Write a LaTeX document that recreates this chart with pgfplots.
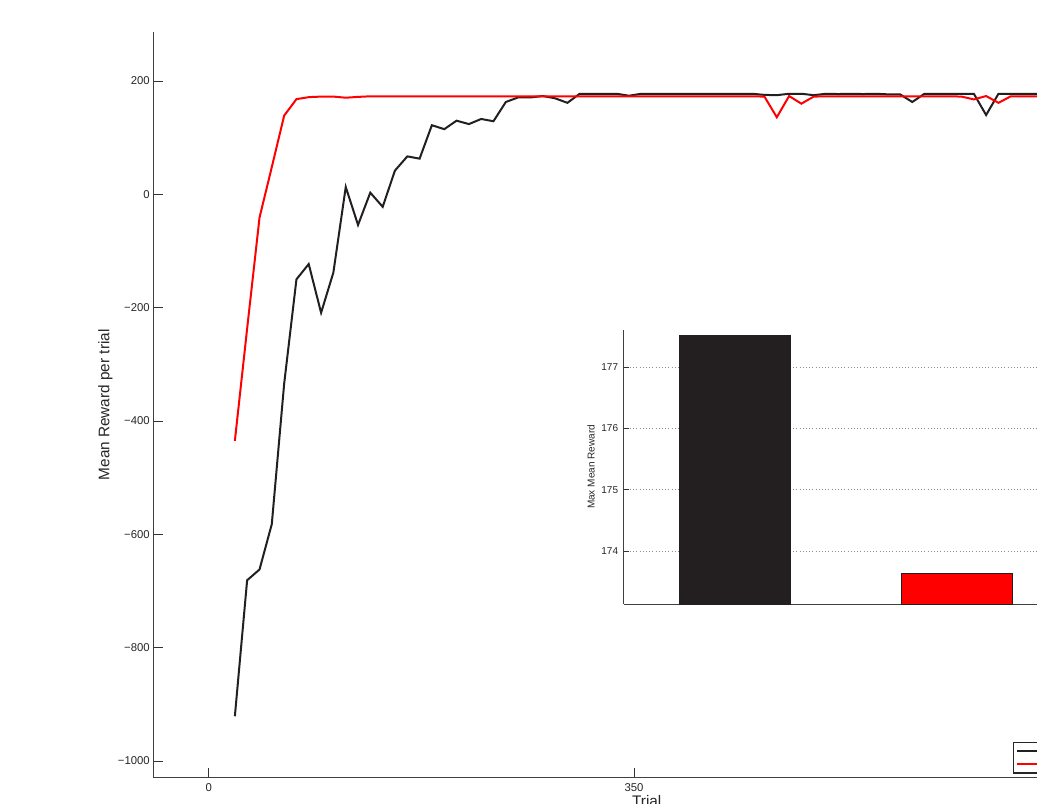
\documentclass[border=0pt]{standalone}
\usepackage{fontspec}
\setmainfont{Liberation Sans}
\usepackage{pgfplots}
\usepackage{pgfplotstable}
\pgfplotsset{compat=1.18}

\definecolor{mblack}{HTML}{231F20}

% trial, mean reward (black run), mean reward (red run)
\pgfplotstableread{
x     black   red
21.4  -921   -435
31.5  -681   -237
41.7  -662   -41
51.8  -582    48
62.0  -334    139
72.1  -150    168
82.2  -123    171.5
92.4  -209    172.5
102.5 -138    172.5
112.7  13     170.5
122.8 -54     172
132.9  3      173
143.1 -22     173
153.2  42     173
163.4  67     173
173.5  63     173
183.6  122    173
193.8  115    173
203.9  130    173
214.1  124    173
224.2  133    173
234.3  129    173
244.5  163    173
254.6  171    173
264.8  171    173
274.9  173.5  173
285.0  169.5  173
295.2  161.5  173
305.3  177.5  173
315.5  177.5  173
325.6  177.5  173
335.7  177.5  173
345.9  174    173
356.0  177.5  173
366.2  177.5  173
376.3  177.5  173
386.4  177.5  173
396.6  177.5  173
406.7  177.5  173
416.9  177.5  173
427.0  177.5  173
437.1  177.5  173
447.3  177.5  173
457.4  175.5  172.5
467.6  175    136
477.7  177.5  173.5
487.8  177.5  160
498.0  175    172.5
508.1  177.5  173
518.3  177    173
528.4  177.5  173
538.5  177    173
548.7  177.5  173
558.8  176.5  173
569.0  176.5  173
579.1  163    173
589.2  177.5  173
599.4  177.5  173
609.5  177.5  173
619.7  177.5  172.5
629.8  177.5  167.5
639.9  140    173.5
650.1  177.5  161.5
660.2  177.5  173
670.4  177.5  173
680.5  177.5  173
690.6  177.5  173
}\rewards

\begin{document}
\begin{tikzpicture}
\useasboundingbox (-114.75pt,-18.98pt) rectangle (663pt,583.3pt);
\clip (-114.75pt,-18.98pt) rectangle (663pt,583.3pt);
\begin{pgfinterruptboundingbox}
\begin{axis}[
    at={(0pt,0pt)}, anchor=south west,
    scale only axis,
    width=740.6pt, height=559.3pt,
    xmin=-46, xmax=767,
    ymin=-1029.5, ymax=286.5,
    axis x line*=bottom, axis y line*=left,
    axis line style={black!75, line width=0.6pt},
    tick align=inside,
    major tick length=7.5pt,
    tick style={black!80, line width=0.6pt},
    xtick={0,350}, xticklabels={0,350},
    ytick={-1000,-800,-600,-400,-200,0,200},
    yticklabels={−1000,−800,−600,−400,−200,0,200},
    ticklabel style={font=\fontsize{8.5}{10}\selectfont, text=black!85},
    yticklabel style={inner sep=2.25pt},
    xticklabel style={inner sep=4.5pt},
    xlabel={Trial},
    xlabel style={at={(axis description cs:0.5,0)}, anchor=north, yshift=-13pt, inner sep=0pt, font=\fontsize{11.5}{13}\selectfont, text=black!85},
    ylabel={Mean Reward per trial},
    ylabel style={at={(axis description cs:-0.0481,0.5)}, anchor=center, font=\fontsize{11.5}{13}\selectfont, text=black!85},
    legend style={at={(axis description cs:0.871,0.0479)}, anchor=north west,
        draw=black!85, line width=1pt, inner sep=1.6pt,
        font=\fontsize{8}{9.75}\selectfont,
        nodes={inner sep=1pt, text height=6.5pt, text depth=1.25pt}},
    legend cell align=left,
]
\addplot[mblack, line width=1.5pt] table[x=x, y=black] {\rewards};
\addlegendentry{\hspace*{40pt}}
\addplot[red, line width=1.5pt] table[x=x, y=red] {\rewards};
\addlegendentry{\hspace*{40pt}}
\end{axis}

\begin{axis}[
    at={(353pt,130.3pt)}, anchor=south west,
    scale only axis,
    width=500pt, height=205.5pt,
    xmin=0.5, xmax=3.5,
    ymin=173.134, ymax=177.61,
    axis x line*=bottom, axis y line*=left,
    axis line style={black!75, line width=0.6pt},
    tick align=inside,
    major tick length=4pt,
    tick style={black!80, line width=0.6pt},
    xtick=\empty,
    ytick={174,175,176,177},
    yticklabels={174,175,176,177},
    ymajorgrids,
    major grid style={black!45, dotted, line width=0.6pt},
    ticklabel style={font=\fontsize{7.5}{9}\selectfont, text=black!85},
    yticklabel style={inner sep=4pt},
    ylabel={Max Mean Reward},
    ylabel style={at={(axis description cs:-0.049,0.5)}, anchor=center, font=\fontsize{7.5}{9}\selectfont, text=black!85},
    ybar, bar width=83.8pt, bar shift=0pt,
]
\addplot[fill=mblack, draw=mblack, line width=0.5pt] coordinates {(1,177.53)};
\addplot[fill=red, draw=mblack, line width=0.7pt] coordinates {(2,173.64)};
\end{axis}
\end{pgfinterruptboundingbox}
\end{tikzpicture}
\end{document}
